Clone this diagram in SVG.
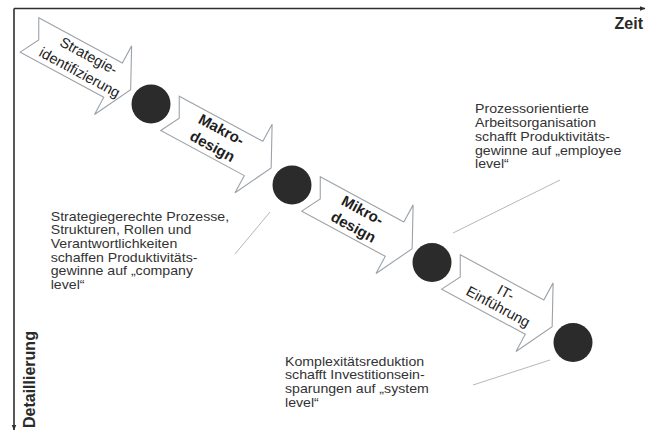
<svg xmlns="http://www.w3.org/2000/svg" width="648" height="433" viewBox="0 0 648 433">
<defs>
<style>
.ax{stroke:#2e2e2e;stroke-width:1.6;fill:none}
.arr{fill:#ffffff;stroke:#9ba2a8;stroke-width:1.1;stroke-linejoin:miter}
.dot{fill:#2b2b2b}
.lnk{stroke:#b4b8bb;stroke-width:1;fill:none}
.body{font-family:"Liberation Sans",Arial,sans-serif;font-size:12px;fill:#333333}
.lab{font-family:"Liberation Sans",Arial,sans-serif;font-size:16px;font-weight:bold;fill:#2a2a2a}
.at{font-family:"Liberation Sans",Arial,sans-serif;font-size:14.5px;fill:#222222;text-anchor:middle}
.atb{font-family:"Liberation Sans",Arial,sans-serif;font-size:15px;font-weight:bold;fill:#1e1e1e;text-anchor:middle}
</style>
<path id="chev" d="M0,-19.5 L95,-19.5 L95,-39 L115,0 L95,39 L95,19.5 L0,19.5 L10.5,0 Z"/>
<marker id="ah" viewBox="0 0 10 10" refX="9" refY="5" markerWidth="6" markerHeight="6" orient="auto" markerUnits="userSpaceOnUse">
<path d="M0,1 L10,5 L0,9 Z" fill="#2e2e2e"/>
</marker>
</defs>
<rect width="648" height="433" fill="#ffffff"/>

<g id="axes">
<path class="ax" d="M14,8.5 L645,8.5" marker-end="url(#ah)"/>
<path class="ax" d="M14,8.5 L14,430" marker-end="url(#ah)"/>
<text class="lab" x="643" y="29" text-anchor="end">Zeit</text>
<text class="lab" transform="translate(35,428) rotate(-90)">Detaillierung</text>
</g>

<g id="connectors">
<path class="lnk" d="M270,212 L235,254"/>
<path class="lnk" d="M560,180 L453,233"/>
<path class="lnk" d="M550,360 L473,385"/>
</g>

<g id="step1" transform="translate(29.5,35) rotate(28.4)">
<use href="#chev" class="arr"/>
<text class="at" x="62" y="-5">Strategie-</text>
<text class="at" x="62" y="14">identifizierung</text>
</g>
<g id="step2" transform="translate(170,113.3) rotate(28.4)">
<use href="#chev" class="arr"/>
<text class="atb" x="53" y="-5">Makro-</text>
<text class="atb" x="53" y="14">design</text>
</g>
<g id="step3" transform="translate(311,194) rotate(28.4)">
<use href="#chev" class="arr"/>
<text class="atb" x="53" y="-5">Mikro-</text>
<text class="atb" x="53" y="14">design</text>
</g>
<g id="step4" transform="translate(451,272) rotate(28.4)">
<use href="#chev" class="arr"/>
<text class="at" x="58" y="-3">IT-</text>
<text class="at" x="58" y="13">Einführung</text>
</g>

<g id="milestone1"><circle class="dot" cx="151" cy="104" r="19.5"/></g>
<g id="milestone2"><circle class="dot" cx="292" cy="185" r="19.5"/></g>
<g id="milestone3"><circle class="dot" cx="432" cy="262.5" r="19.5"/></g>
<g id="milestone4"><circle class="dot" cx="573" cy="342.5" r="19.5"/></g>

<g id="note-company" transform="translate(50.7,0) scale(1.18,1)">
<text class="body" x="0" y="220.7">Strategiegerechte Prozesse,</text>
<text class="body" x="0" y="234.4">Strukturen, Rollen und</text>
<text class="body" x="0" y="248.1">Verantwortlichkeiten</text>
<text class="body" x="0" y="261.8">schaffen Produktivitäts-</text>
<text class="body" x="0" y="275.5">gewinne auf „company</text>
<text class="body" x="0" y="289.2">level“</text>
</g>
<g id="note-employee" transform="translate(475,0) scale(1.18,1)">
<text class="body" x="0" y="113.5">Prozessorientierte</text>
<text class="body" x="0" y="127.2">Arbeitsorganisation</text>
<text class="body" x="0" y="140.9">schafft Produktivitäts-</text>
<text class="body" x="0" y="154.6">gewinne auf „employee</text>
<text class="body" x="0" y="168.3">level“</text>
</g>
<g id="note-system" transform="translate(285,0) scale(1.18,1)">
<text class="body" x="0" y="365.7">Komplexitätsreduktion</text>
<text class="body" x="0" y="379.4">schafft Investitionsein-</text>
<text class="body" x="0" y="393.1">sparungen auf „system</text>
<text class="body" x="0" y="406.8">level“</text>
</g>
</svg>
